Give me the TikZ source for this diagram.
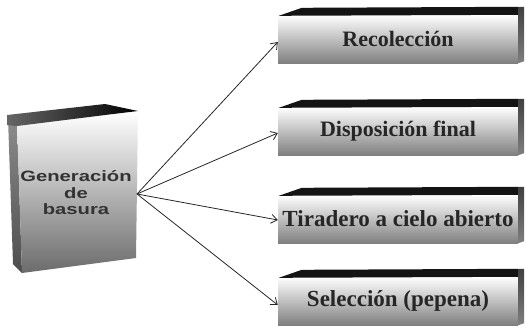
\documentclass[tikz,border=0pt]{standalone}
\usepackage{fontspec}
\setmainfont{Liberation Serif}
\newfontfamily\genfont[FakeStretch=1.35]{Liberation Sans}
\usetikzlibrary{arrows.meta,calc}
\begin{document}
\begin{tikzpicture}[x=1pt,y=-1pt,
  face/.style={minimum width=240pt, minimum height=48pt, inner sep=0pt,
    top color=white, bottom color=black!50,
    font=\bfseries\fontsize{22}{24}\selectfont, text=black!85},
  topbar/.style={fill=black!92},
  sidebar/.style={top color=black!75, bottom color=black!50},
  conn/.style={draw=black!85, line width=0.8pt, -{Straight Barb[length=6pt,width=9pt]}}
]
\useasboundingbox (0,0) rectangle (526,327);

% left box
\shade[top color=black!45, bottom color=black!70] (8,118) -- (17,122) -- (22,273) -- (13,264) -- cycle;
\shade[top color=white, middle color=black!20, bottom color=black!58] (17,122) -- (138,112) -- (136,258) -- (22,273) -- cycle;
\shade[left color=black!60, right color=black] (7,115) -- (105,104) -- (138,111) -- (105,115) -- (17,126) -- (7,125) -- cycle;
\node[align=center, text=black!80, font=\genfont\bfseries\fontsize{15}{16.5}\selectfont] (gen) at (76,193) {Generación\\de\\basura};
\coordinate (src) at (137,194);

% right boxes
\node[face] (r1) at (398,39) {Recolección};
\node[face] (r2) at (398,131) {Disposición final};
\node[face, font=\bfseries\fontsize{23}{25}\selectfont] (r3) at (398,219) {Tiradero a cielo abierto};
\node[face, font=\bfseries\fontsize{23}{25}\selectfont] (r4) at (398,301) {Selección (pepena)};

\foreach \n in {r1,r2,r3,r4}{
  \fill[topbar] ($(\n.north west)+(1,1)$) -- ($(\n.north west)+(24,-7)$) -- ($(\n.north east)+(0,-8)$) -- (\n.north east) -- cycle;
  \shade[sidebar] ($(\n.north east)+(0,-8)$) -- ($(\n.north east)+(6,-8)$) -- ($(\n.south east)+(6,-2)$) -- (\n.south east) -- cycle;
}

% connectors
\draw[conn] (src) -- ([yshift=-3pt]r1.west);
\draw[conn] (src) -- ([yshift=-2pt]r2.west);
\draw[conn] (src) -- ([yshift=-1pt]r3.west);
\draw[conn] (src) -- ([yshift=-4pt]r4.west);
\end{tikzpicture}
\end{document}
